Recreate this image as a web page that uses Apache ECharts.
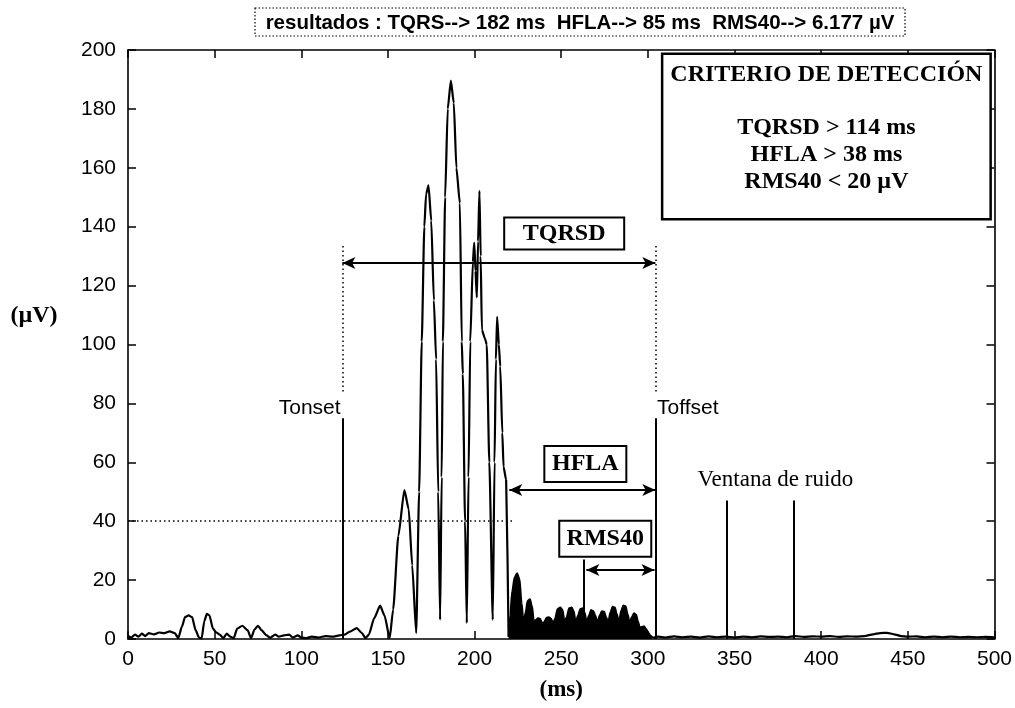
<!DOCTYPE html>
<html><head><meta charset="utf-8">
<script src="https://cdn.jsdelivr.net/npm/echarts@6/dist/echarts.min.js"></script>
<style>html,body{margin:0;padding:0;background:#fff}#c{width:1015px;height:708px}</style>
</head><body><div id="c"></div>
<script>
// ---- tick values ----
const xTickValues = [0, 50, 100, 150, 200, 250, 300, 350, 400, 450, 500];
const yTickValues = [0, 20, 40, 60, 80, 100, 120, 140, 160, 180, 200];

// ---- filtered signal (ms, µV): before late potentials ----
const preMs = [0,2,4,6,8,10,12,15,18,21,24,27,29,31,33,35,37,39,41,42.5,44,45.5,47,49,51,53,55,57,59,61,63,66,69,71,73,75,77,80,82,85,87,90,93,95,98,100,103,106,110,114,118,122,125,128,132,135,137,139,142,145.5,148,151,153,156,159.5,162,164,166.3,168,169.5,171,172,173.4,175,176.5,177.8,179,180.1,181,181.7,183,184.5,186.3,188,189.5,191.5,192.6,193.2,194.5,195.5,196.5,197.5,199,199.8,200.5,201.3,202,202.8,203.5,204.2,206,207,208.5,210.5,211.5,212.3,213,214,214.8,216,216.7,218.2,219.6];
const preUv = [1,0.5,1.5,0.8,1.8,1,2,1.6,2.2,2,2.6,2,0.3,4,7.5,8,7.4,3,0.5,0.2,6,8.5,8,3.5,2.2,1.5,0.3,1.8,0.8,0.3,3.5,4.5,3,0.3,3.2,4.5,3,1.2,0.4,1.5,0.8,1.2,1.5,0.5,1.2,0.5,0.3,0.8,0.5,1,0.8,1.2,1.5,2.5,3.7,2,0.3,1.5,7,11.3,8,0.3,10,35,50.6,44,25,2,50,101,140,151,154,142,115,95,50,6.5,55,101,150,180,189.6,182,160,148,101,90,40,5.4,55,101,128,134.6,125,116,135,152.2,130,105,102,100,60,6.5,60,95,109.4,100,92.5,70,58.5,54,0.8];

// ---- late potentials segment (filled) ----
const lateMs = [219.6,220.5,221.5,223,224.5,226,227.3,228.3,229.3,230.5,232,233.3,234.3,235.3,236.5,237.8,239,240,241.5,242.8,244.2,245.3,246.3,247.8,249.4,250.8,252,253,254.5,256,257.3,258.4,259.5,261,262.3,263.6,264.7,265.8,267.2,268.5,269.8,270.9,272,273.4,274.8,276,277.1,278.2,279.6,281,282.2,283.3,284.4,285.8,287.2,288.4,289.5,290.6,292,293.3,294.4,295.4,296.5,297.8,299,300.3,301.6,303];
const lateUv = [0.8,8,16,21,22.4,20.5,12,6,9,13,13.6,11,6,6.5,7.1,7,5.5,5.8,7.3,7.5,7,5.5,7,10.2,10.8,10,6,7.5,10.5,10.8,9.5,6,8,10.3,10.5,9,6,8,9.9,9.6,8,5.8,8,9.5,9.3,7.5,6,9,11,10.8,8.5,6,9.5,11.5,11.2,8.5,5.8,7.5,8.8,8.3,6,4,4.2,4.4,3.5,2.2,1.2,0.4];

// ---- after QRS ----
const postMs = [303,306,310,315,320,325,330,335,340,345,350,355,360,365,370,375,380,385,390,395,400,405,410,415,420,425,430,434,438,442,446,450,455,460,465,470,475,480,485,490,495,500];
const postUv = [0.4,0.8,0.5,0.9,0.6,0.8,0.5,0.9,0.6,0.8,0.5,0.8,0.6,0.9,0.7,0.8,0.6,1,0.7,0.9,0.8,1,0.7,0.9,0.8,1,1.6,2,2.1,1.6,1,0.8,0.9,0.6,0.8,0.6,0.8,0.6,0.7,0.6,0.7,0.6];

// ---- measured markers (ms / µV) ----
const tOnsetMs = 123.7;
const tOffsetMs = 304.3;
const hflaStartMs = 220;
const rms40StartMs = 263;
const noiseWindowMs = [345.3, 384];
const thresholdUv = 40;

// ---- texts ----
const summaryText = 'resultados : TQRS--> 182 ms  HFLA--> 85 ms  RMS40--> 6.177 µV';
const criteriaTitle = 'CRITERIO DE DETECCIÓN';
const criteriaLines = ['TQRSD > 114 ms', 'HFLA > 38 ms', 'RMS40 < 20 µV'];

const SERIF = '"Liberation Serif", "DejaVu Serif", serif';
const SANS = '"Liberation Sans", Arial, sans-serif';
const pair = (xs, ys) => xs.map((x, i) => [x, ys[i]]);

const solid = {type: 'solid', width: 2, color: '#000'};
const dotted = {type: [1.5, 3], width: 1.5, color: '#000'};
function seg(x1, y1, x2, y2, style, arrows) {
  const s = arrows ? 'arrow' : 'none';
  return [{coord: [x1, y1], symbol: s, lineStyle: style}, {coord: [x2, y2], symbol: s}];
}

const boxLabel = (text, w, h) => ({
  show: true, formatter: text, position: [0, 0], align: 'center', verticalAlign: 'middle',
  fontFamily: SERIF, fontWeight: 'bold', fontSize: 24, color: '#000',
  backgroundColor: '#fff', borderColor: '#000', borderWidth: 2,
  width: w, height: h, lineHeight: h
});
const plainLabel = (text, align, fam, size) => ({
  show: true, formatter: text, position: [0, 0], align: align, verticalAlign: 'middle',
  fontFamily: fam, fontSize: size, color: '#000'
});

const axisCommon = {
  axisLine: {onZero: false, lineStyle: {color: '#000', width: 1.6}},
  axisTick: {inside: true, length: 8, lineStyle: {color: '#000', width: 1.5}},
  splitLine: {show: false}
};

const chart = echarts.init(document.getElementById('c'));
chart.setOption({
  animation: false,
  backgroundColor: '#fff',
  grid: {left: 128, right: 20, top: 50, bottom: 69},
  xAxis: [
    Object.assign({type: 'value', min: 0, max: 500, interval: 50, position: 'bottom',
      axisLabel: {color: '#000', fontFamily: SANS, fontSize: 21, margin: 10,
        formatter: v => xTickValues.includes(v) ? String(v) : ''},
      name: '(ms)', nameLocation: 'middle', nameGap: 40,
      nameTextStyle: {fontFamily: SERIF, fontWeight: 'bold', fontSize: 23, color: '#000'}}, axisCommon),
    Object.assign({type: 'value', min: 0, max: 500, interval: 50, position: 'top',
      axisLabel: {show: false}}, axisCommon)
  ],
  yAxis: [
    Object.assign({type: 'value', min: 0, max: 200, interval: 20, position: 'left',
      axisLabel: {color: '#000', fontFamily: SANS, fontSize: 21, margin: 12,
        formatter: v => yTickValues.includes(v) ? String(v) : ''}}, axisCommon),
    Object.assign({type: 'value', min: 0, max: 200, interval: 20, position: 'right',
      axisLabel: {show: false}}, axisCommon)
  ],
  graphic: [
    {type: 'rect', shape: {x: 255, y: 8, width: 650, height: 28},
      style: {fill: '#fff', stroke: '#000', lineWidth: 1.2, lineDash: [1.5, 2]}},
    {type: 'text', x: 580, y: 23,
      style: {text: summaryText, font: 'bold 20.5px ' + SANS, fill: '#000',
        align: 'center', verticalAlign: 'middle', textAlign: 'center', textVerticalAlign: 'middle'}},
    {type: 'text', x: 34, y: 316,
      style: {text: '(µV)', font: 'bold 24px ' + SERIF, fill: '#000',
        align: 'center', verticalAlign: 'middle', textAlign: 'center', textVerticalAlign: 'middle'}}
  ],
  series: [
    {
      type: 'line', data: pair(preMs, preUv), showSymbol: false, smooth: 0.2, smoothMonotone: 'x',
      lineStyle: {color: '#000', width: 2.2}, silent: true,
      markLine: {
        silent: true, animation: false, symbolSize: [9, 13], label: {show: false},
        emphasis: {disabled: true},
        data: [
          seg(0, thresholdUv, hflaStartMs + 2, thresholdUv, dotted, false),
          seg(tOnsetMs, 0, tOnsetMs, 75, solid, false),
          seg(tOnsetMs, 84, tOnsetMs, 134, dotted, false),
          seg(tOffsetMs, 0, tOffsetMs, 75, solid, false),
          seg(tOffsetMs, 84, tOffsetMs, 134, dotted, false),
          seg(tOnsetMs, 127.7, tOffsetMs, 127.7, solid, true),
          seg(hflaStartMs, 50.6, tOffsetMs, 50.6, solid, true),
          seg(rms40StartMs + 1.5, 23.4, tOffsetMs - 0.5, 23.4, solid, true),
          seg(rms40StartMs, 0, rms40StartMs, 27, solid, false),
          seg(noiseWindowMs[0], 0, noiseWindowMs[0], 47, solid, false),
          seg(noiseWindowMs[1], 0, noiseWindowMs[1], 47, solid, false)
        ]
      },
      markPoint: {
        silent: true, symbol: 'rect', symbolSize: 0, animation: false,
        data: [
          {coord: [251.7, 137.7], label: boxLabel('TQRSD', 118, 30)},
          {coord: [263.9, 59.4], label: boxLabel('HFLA', 80, 34)},
          {coord: [275.4, 34], label: boxLabel('RMS40', 90, 34)},
          {coord: [tOnsetMs - 1, 78.4], label: plainLabel('Tonset', 'right', SANS, 21)},
          {coord: [tOffsetMs + 1, 78.4], label: plainLabel('Toffset', 'left', SANS, 21)},
          {coord: [373.6, 54], label: plainLabel('Ventana de ruido', 'center', SERIF, 23)},
          {coord: [403, 170.6], label: {
            show: true, position: [0, 0], align: 'center', verticalAlign: 'middle',
            backgroundColor: '#fff', borderColor: '#000', borderWidth: 2.5,
            width: 322, padding: [6, 2, 23, 2],
            formatter: '{t|' + criteriaTitle + '}\n{g|}\n' + criteriaLines.map(s => '{c|' + s + '}').join('\n'),
            rich: {
              t: {fontFamily: SERIF, fontWeight: 'bold', fontSize: 24, lineHeight: 28, color: '#000', align: 'center'},
              g: {lineHeight: 25, fontSize: 10},
              c: {fontFamily: SERIF, fontWeight: 'bold', fontSize: 24, lineHeight: 27, color: '#000', align: 'center'}
            }
          }}
        ]
      }
    },
    {
      type: 'line', data: pair(lateMs, lateUv), showSymbol: false, smooth: 0.3, smoothMonotone: 'x',
      lineStyle: {color: '#000', width: 1.5}, areaStyle: {color: '#000', opacity: 1}, silent: true
    },
    {
      type: 'line', data: pair(postMs, postUv), showSymbol: false, smooth: 0.2, smoothMonotone: 'x',
      lineStyle: {color: '#000', width: 2.2}, silent: true
    }
  ]
});
</script>
</body></html>
